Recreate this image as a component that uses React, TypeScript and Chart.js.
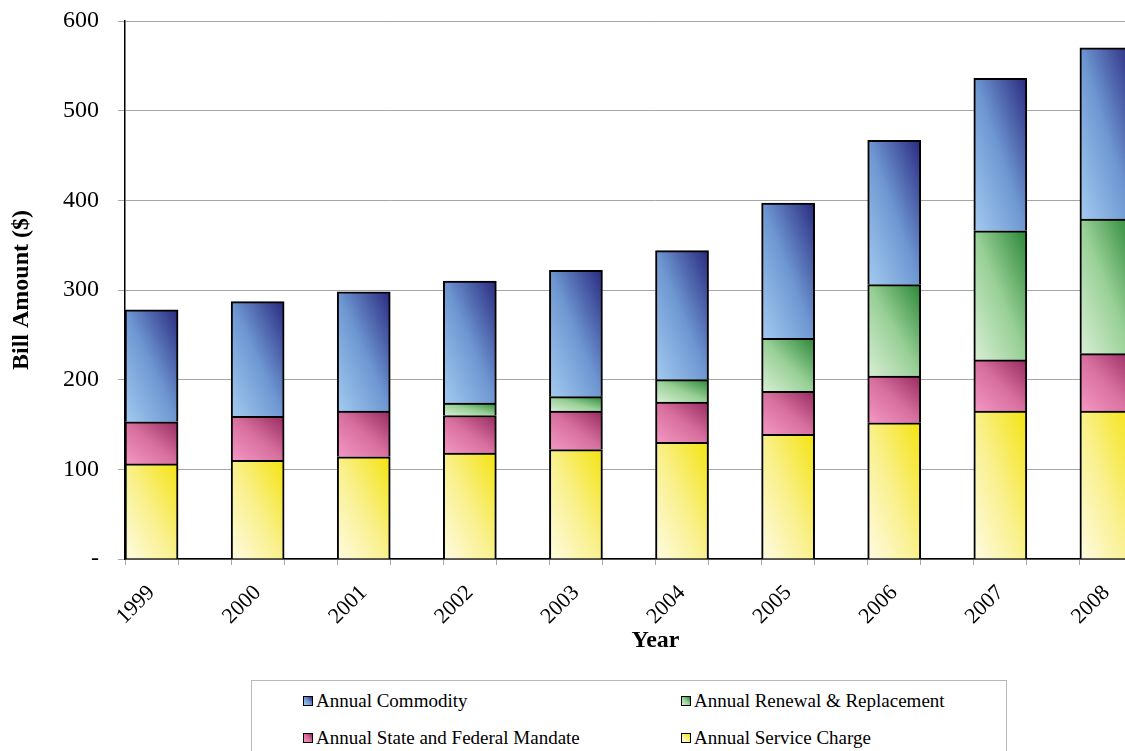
import React, { useEffect, useRef } from "react";
import { Chart, registerables } from "chart.js";

Chart.register(...registerables);

// ---- data -------------------------------------------------------------
const YEARS = ["1999", "2000", "2001", "2002", "2003", "2004", "2005", "2006", "2007", "2008"];

const SERVICE_CHARGE = [106, 110, 114, 118, 122, 130, 139, 152, 165, 165];
const STATE_FEDERAL_MANDATE = [47, 49, 51, 42, 43, 45, 48, 52, 57, 64];
const RENEWAL_REPLACEMENT = [0, 0, 0, 14, 16, 25, 59, 102, 144, 150];
const COMMODITY = [125, 128, 133, 136, 141, 144, 151, 161, 170, 191];

const Y_TICK_LABELS = ["-", "100", "200", "300", "400", "500", "600"];

const SERIES_NAMES = {
  commodity: "Annual Commodity",
  renewal: "Annual Renewal & Replacement",
  mandate: "Annual State and Federal Mandate",
  service: "Annual Service Charge",
};

// ---- styles -----------------------------------------------------------
const FONT = "'Liberation Serif', 'Times New Roman', serif";

// gradient stops: light at lower-left, dark at upper-right
const STOPS: Record<string, [number, string][]> = {
  service: [
    [0, "#fefbe2"],
    [0.5, "#f9f08a"],
    [1, "#f4e30f"],
  ],
  mandate: [
    [0, "#f497c4"],
    [0.5, "#d8709f"],
    [1, "#962a5f"],
  ],
  renewal: [
    [0, "#d9eed5"],
    [0.5, "#98d096"],
    [1, "#2b8637"],
  ],
  commodity: [
    [0, "#a3cbf0"],
    [0.5, "#6e97d2"],
    [1, "#29297f"],
  ],
};

// stacked bottom → top
const STACK_ORDER: { key: keyof typeof SERIES_NAMES; values: number[] }[] = [
  { key: "service", values: SERVICE_CHARGE },
  { key: "mandate", values: STATE_FEDERAL_MANDATE },
  { key: "renewal", values: RENEWAL_REPLACEMENT },
  { key: "commodity", values: COMMODITY },
];

const LEGEND_ITEMS: { key: keyof typeof SERIES_NAMES; left: number; top: number }[] = [
  { key: "commodity", left: 51, top: 10 },
  { key: "renewal", left: 429, top: 10 },
  { key: "mandate", left: 51, top: 47 },
  { key: "service", left: 429, top: 47 },
];

// every year occupies one slot followed by an empty slot
const slotLabels = YEARS.flatMap((y) => [y, ""]);
const slotValues = (vals: number[]) => vals.flatMap((v) => [v, null]);

// paints each bar segment with its own diagonal gradient
const segmentGradient = {
  id: "segmentGradient",
  beforeDatasetsDraw(chart: any) {
    const ctx = chart.ctx as CanvasRenderingContext2D;
    chart.data.datasets.forEach((ds: any, di: number) => {
      const stops = STOPS[ds.seriesKey];
      const meta = chart.getDatasetMeta(di);
      meta.data.forEach((el: any) => {
        const { x, y, base, width } = el.getProps(["x", "y", "base", "width"], true);
        if (y == null || isNaN(y) || isNaN(base)) return;
        const left = x - width / 2;
        const right = x + width / 2;
        const top = Math.min(y, base);
        const bottom = Math.max(y, base);
        const w = right - left;
        const h = bottom - top;
        if (h <= 0 || w <= 0) return;
        const k = (w * h) / (w * w + h * h);
        const cx = (left + right) / 2;
        const cy = (top + bottom) / 2;
        const g = ctx.createLinearGradient(cx - h * k, cy + w * k, cx + h * k, cy - w * k);
        stops.forEach(([o, c]) => g.addColorStop(o, c));
        el.options = { ...el.options, backgroundColor: g };
      });
    });
  },
};

export default function App() {
  const canvasRef = useRef<HTMLCanvasElement>(null);

  useEffect(() => {
    const canvas = canvasRef.current;
    if (!canvas) return;
    const chart = new Chart(canvas, {
      type: "bar",
      data: {
        labels: slotLabels,
        datasets: STACK_ORDER.map((s) => ({
          label: SERIES_NAMES[s.key],
          seriesKey: s.key,
          data: slotValues(s.values),
          backgroundColor: STOPS[s.key][1][1],
          borderColor: "#000",
          borderWidth: { top: 2, left: 2, right: 2, bottom: 0 },
          borderSkipped: false,
          barPercentage: 1,
          categoryPercentage: 1,
        })) as any,
      },
      options: {
        responsive: false,
        animation: false,
        devicePixelRatio: 1,
        layout: { padding: { top: 21, right: 20, bottom: 96, left: 0 } },
        plugins: {
          legend: { display: false },
          tooltip: { enabled: false },
        },
        scales: {
          x: {
            stacked: true,
            offset: true,
            grid: {
              offset: true,
              drawOnChartArea: false,
              drawTicks: true,
              tickLength: 6,
              color: "#a6a6a6",
            },
            border: { display: true, color: "#000", width: 1.5 },
            ticks: {
              autoSkip: false,
              minRotation: 45,
              maxRotation: 45,
              padding: 15,
              color: "#000",
              font: { family: FONT, size: 22 },
            },
            title: {
              display: true,
              text: "Year",
              color: "#000",
              padding: 0,
              font: { family: FONT, size: 24, weight: "bold" },
            },
            afterFit: (scale: any) => {
              scale.height = 96;
              scale.paddingLeft = 0;
              scale.paddingRight = 0;
            },
          },
          y: {
            stacked: true,
            min: 0,
            max: 600,
            grid: {
              color: "#a6a6a6",
              lineWidth: 1,
              drawTicks: true,
              tickLength: 7,
            },
            border: { display: true, color: "#000", width: 1.5 },
            ticks: {
              stepSize: 100,
              padding: 19,
              color: "#000",
              font: { family: FONT, size: 24 },
              callback: (v: any) => Y_TICK_LABELS[Math.round(Number(v) / 100)],
            },
            title: {
              display: true,
              text: "Bill Amount ($)",
              color: "#000",
              padding: { top: 7, bottom: 0 },
              font: { family: FONT, size: 24, weight: "bold" },
            },
            afterFit: (scale: any) => {
              scale.width = 125;
              scale.paddingTop = 0;
              scale.paddingBottom = 0;
            },
          },
        },
      } as any,
      plugins: [segmentGradient],
    });
    return () => chart.destroy();
  }, []);

  return (
    <div
      style={{
        position: "fixed",
        left: 0,
        top: 0,
        width: 1125,
        height: 751,
        overflow: "hidden",
        background: "#fff",
      }}
    >
      <canvas
        ref={canvasRef}
        width={1206}
        height={751}
        style={{ position: "absolute", left: 0, top: 0, width: 1206, height: 751 }}
      />
      <div
        style={{
          position: "absolute",
          left: 251,
          top: 680,
          width: 756,
          height: 90,
          border: "1px solid #b8b8b8",
          boxSizing: "border-box",
          background: "#fff",
        }}
      >
        {LEGEND_ITEMS.map((item) => {
          const stops = STOPS[item.key];
          return (
            <div
              key={item.key}
              style={{
                position: "absolute",
                left: item.left,
                top: item.top,
                height: 19,
                display: "flex",
                alignItems: "center",
                whiteSpace: "nowrap",
                fontFamily: FONT,
                fontSize: 19,
                lineHeight: "19px",
                color: "#000",
              }}
            >
              <span
                style={{
                  display: "inline-block",
                  width: 10,
                  height: 10,
                  boxSizing: "border-box",
                  border: "1.5px solid #000",
                  background: `linear-gradient(to top right, ${stops[0][1]}, ${stops[1][1]}, ${stops[2][1]})`,
                  marginRight: 3,
                }}
              />
              <span>{SERIES_NAMES[item.key]}</span>
            </div>
          );
        })}
      </div>
    </div>
  );
}
